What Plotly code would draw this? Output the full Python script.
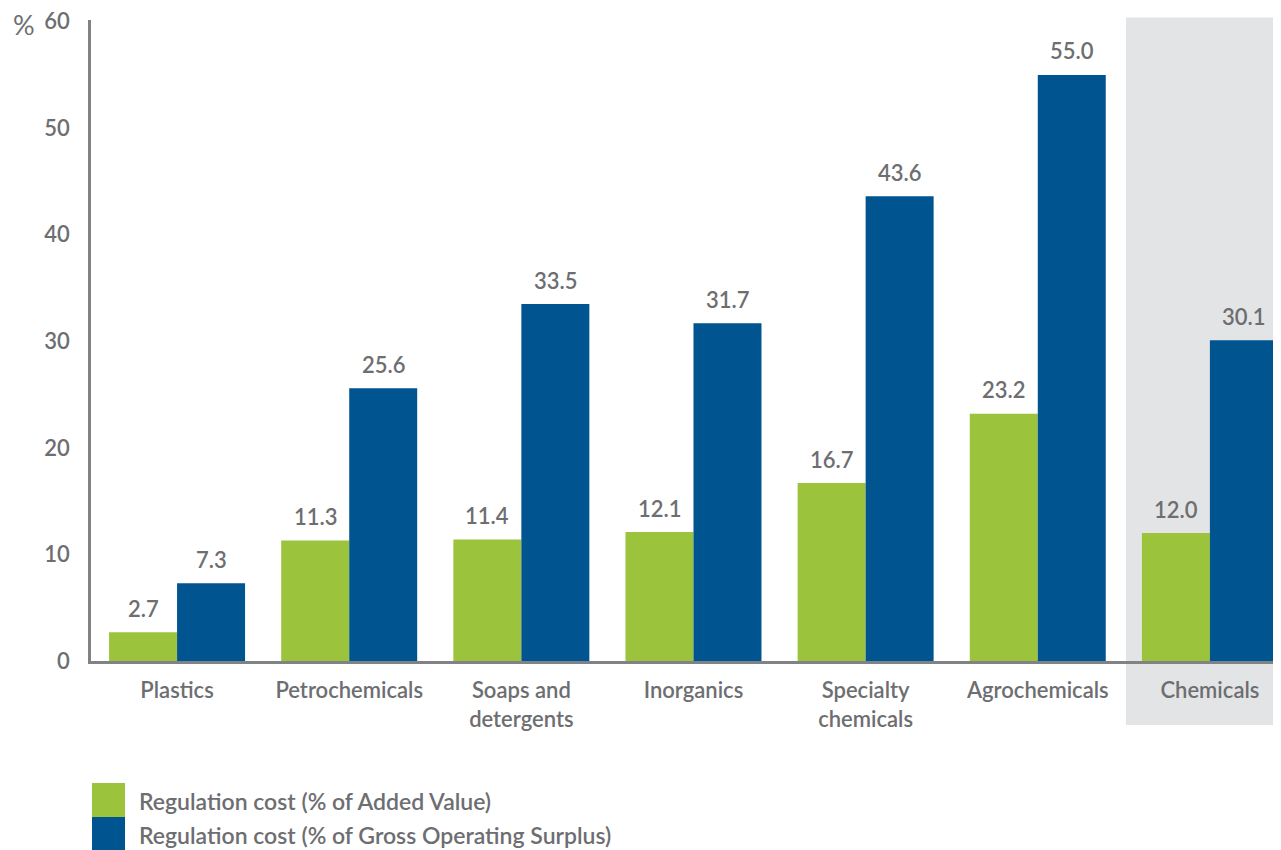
import plotly.graph_objects as go

categories = ["Plastics", "Petrochemicals", "Soaps and<br>detergents", "Inorganics",
              "Specialty<br>chemicals", "Agrochemicals", "Chemicals"]
added_value = [2.7, 11.3, 11.4, 12.1, 16.7, 23.2, 12.0]
gross_surplus = [7.3, 25.6, 33.5, 31.7, 43.6, 55.0, 30.1]
series_names = ["Regulation cost (% of Added Value)",
                "Regulation cost (% of Gross Operating Surplus)"]
y_ticks = [0, 10, 20, 30, 40, 50, 60]

GREEN = "#9BC33C"
BLUE = "#00548F"
GREY_TXT = "#6D6E71"
AXIS = "#808285"
BG_GREY = "#E3E4E5"
FONT = "Lato"
WEIGHT = 600

OFF = 8  # default page body margin
Y_TOP = 60.15
PX_PER_UNIT = 639 / 60
W, H = 1281 - OFF, 850 - OFF
ZERO_PAGE = 661
ML, MR = 91 - OFF, 0
MT = (ZERO_PAGE - Y_TOP * PX_PER_UNIT) - OFF
MB = H - (ZERO_PAGE - OFF)
plot_w = W - ML - MR
plot_h = H - MT - MB


def px_x(p):
    return (p - OFF - ML) / plot_w


def px_y(p):
    return (ZERO_PAGE - p) / plot_h


fig = go.Figure()
fig.add_trace(go.Bar(x=categories, y=added_value, name=series_names[0],
                     marker=dict(color=GREEN, line=dict(width=0)), showlegend=False))
fig.add_trace(go.Bar(x=categories, y=gross_surplus, name=series_names[1],
                     marker=dict(color=BLUE, line=dict(width=0)), showlegend=False))

annotations = []
for vals, shift in ((added_value, -34), (gross_surplus, 34)):
    for c, v in zip(categories, vals):
        annotations.append(dict(x=c, y=v, xref="x", yref="y", text=f"{v:.1f}",
                                showarrow=False, xshift=shift, yshift=24,
                                yanchor="middle",
                                font=dict(family=FONT, size=22, color=GREY_TXT,
                                          weight=WEIGHT)))

# "%" unit label
annotations.append(dict(x=px_x(24), y=px_y(25), xref="paper", yref="paper", text="%",
                        showarrow=False, xanchor="center", yanchor="middle",
                        font=dict(family=FONT, size=27, color=GREY_TXT)))

shapes = [
    # grey highlight behind "Chemicals"
    dict(type="rect", xref="paper", yref="paper", x0=px_x(1126), x1=1.01,
         y0=px_y(725), y1=px_y(18), fillcolor=BG_GREY, line=dict(width=0),
         layer="below"),
]

# custom legend
leg_rows = [(series_names[0], GREEN, 783, 817), (series_names[1], BLUE, 817, 851)]
for name, col, top, bot in leg_rows:
    shapes.append(dict(type="rect", xref="paper", yref="paper",
                       x0=px_x(92), x1=px_x(125), y0=px_y(bot), y1=px_y(top),
                       fillcolor=col, line=dict(width=0)))
    annotations.append(dict(x=px_x(137), y=px_y((top + bot) / 2 + 1), xref="paper",
                            yref="paper", text=name, showarrow=False,
                            xanchor="left", yanchor="middle",
                            font=dict(family=FONT, size=23, color=GREY_TXT,
                                      weight=WEIGHT)))

fig.update_layout(
    width=W, height=H,
    margin=dict(l=ML, r=MR, t=MT, b=MB, pad=0),
    paper_bgcolor="white", plot_bgcolor="rgba(0,0,0,0)",
    barmode="group", bargap=0.21, bargroupgap=0,
    font=dict(family=FONT, color=GREY_TXT),
    shapes=shapes, annotations=annotations,
    xaxis=dict(range=[-0.5, 6.413], showgrid=False, zeroline=False,
               showline=True, linecolor=AXIS, linewidth=2.5, ticks="",
               ticklabelstandoff=8, ticklabeloverflow="allow",
               tickfont=dict(family=FONT, size=22, color=GREY_TXT, weight=WEIGHT)),
    yaxis=dict(range=[0, Y_TOP], tickvals=y_ticks, showgrid=False, zeroline=False,
               showline=True, linecolor=AXIS, linewidth=2.5, ticks="",
               ticklabelstandoff=14, ticklabeloverflow="allow",
               tickfont=dict(family=FONT, size=22, color=GREY_TXT, weight=WEIGHT)),
)

fig.write_html("out.html")
